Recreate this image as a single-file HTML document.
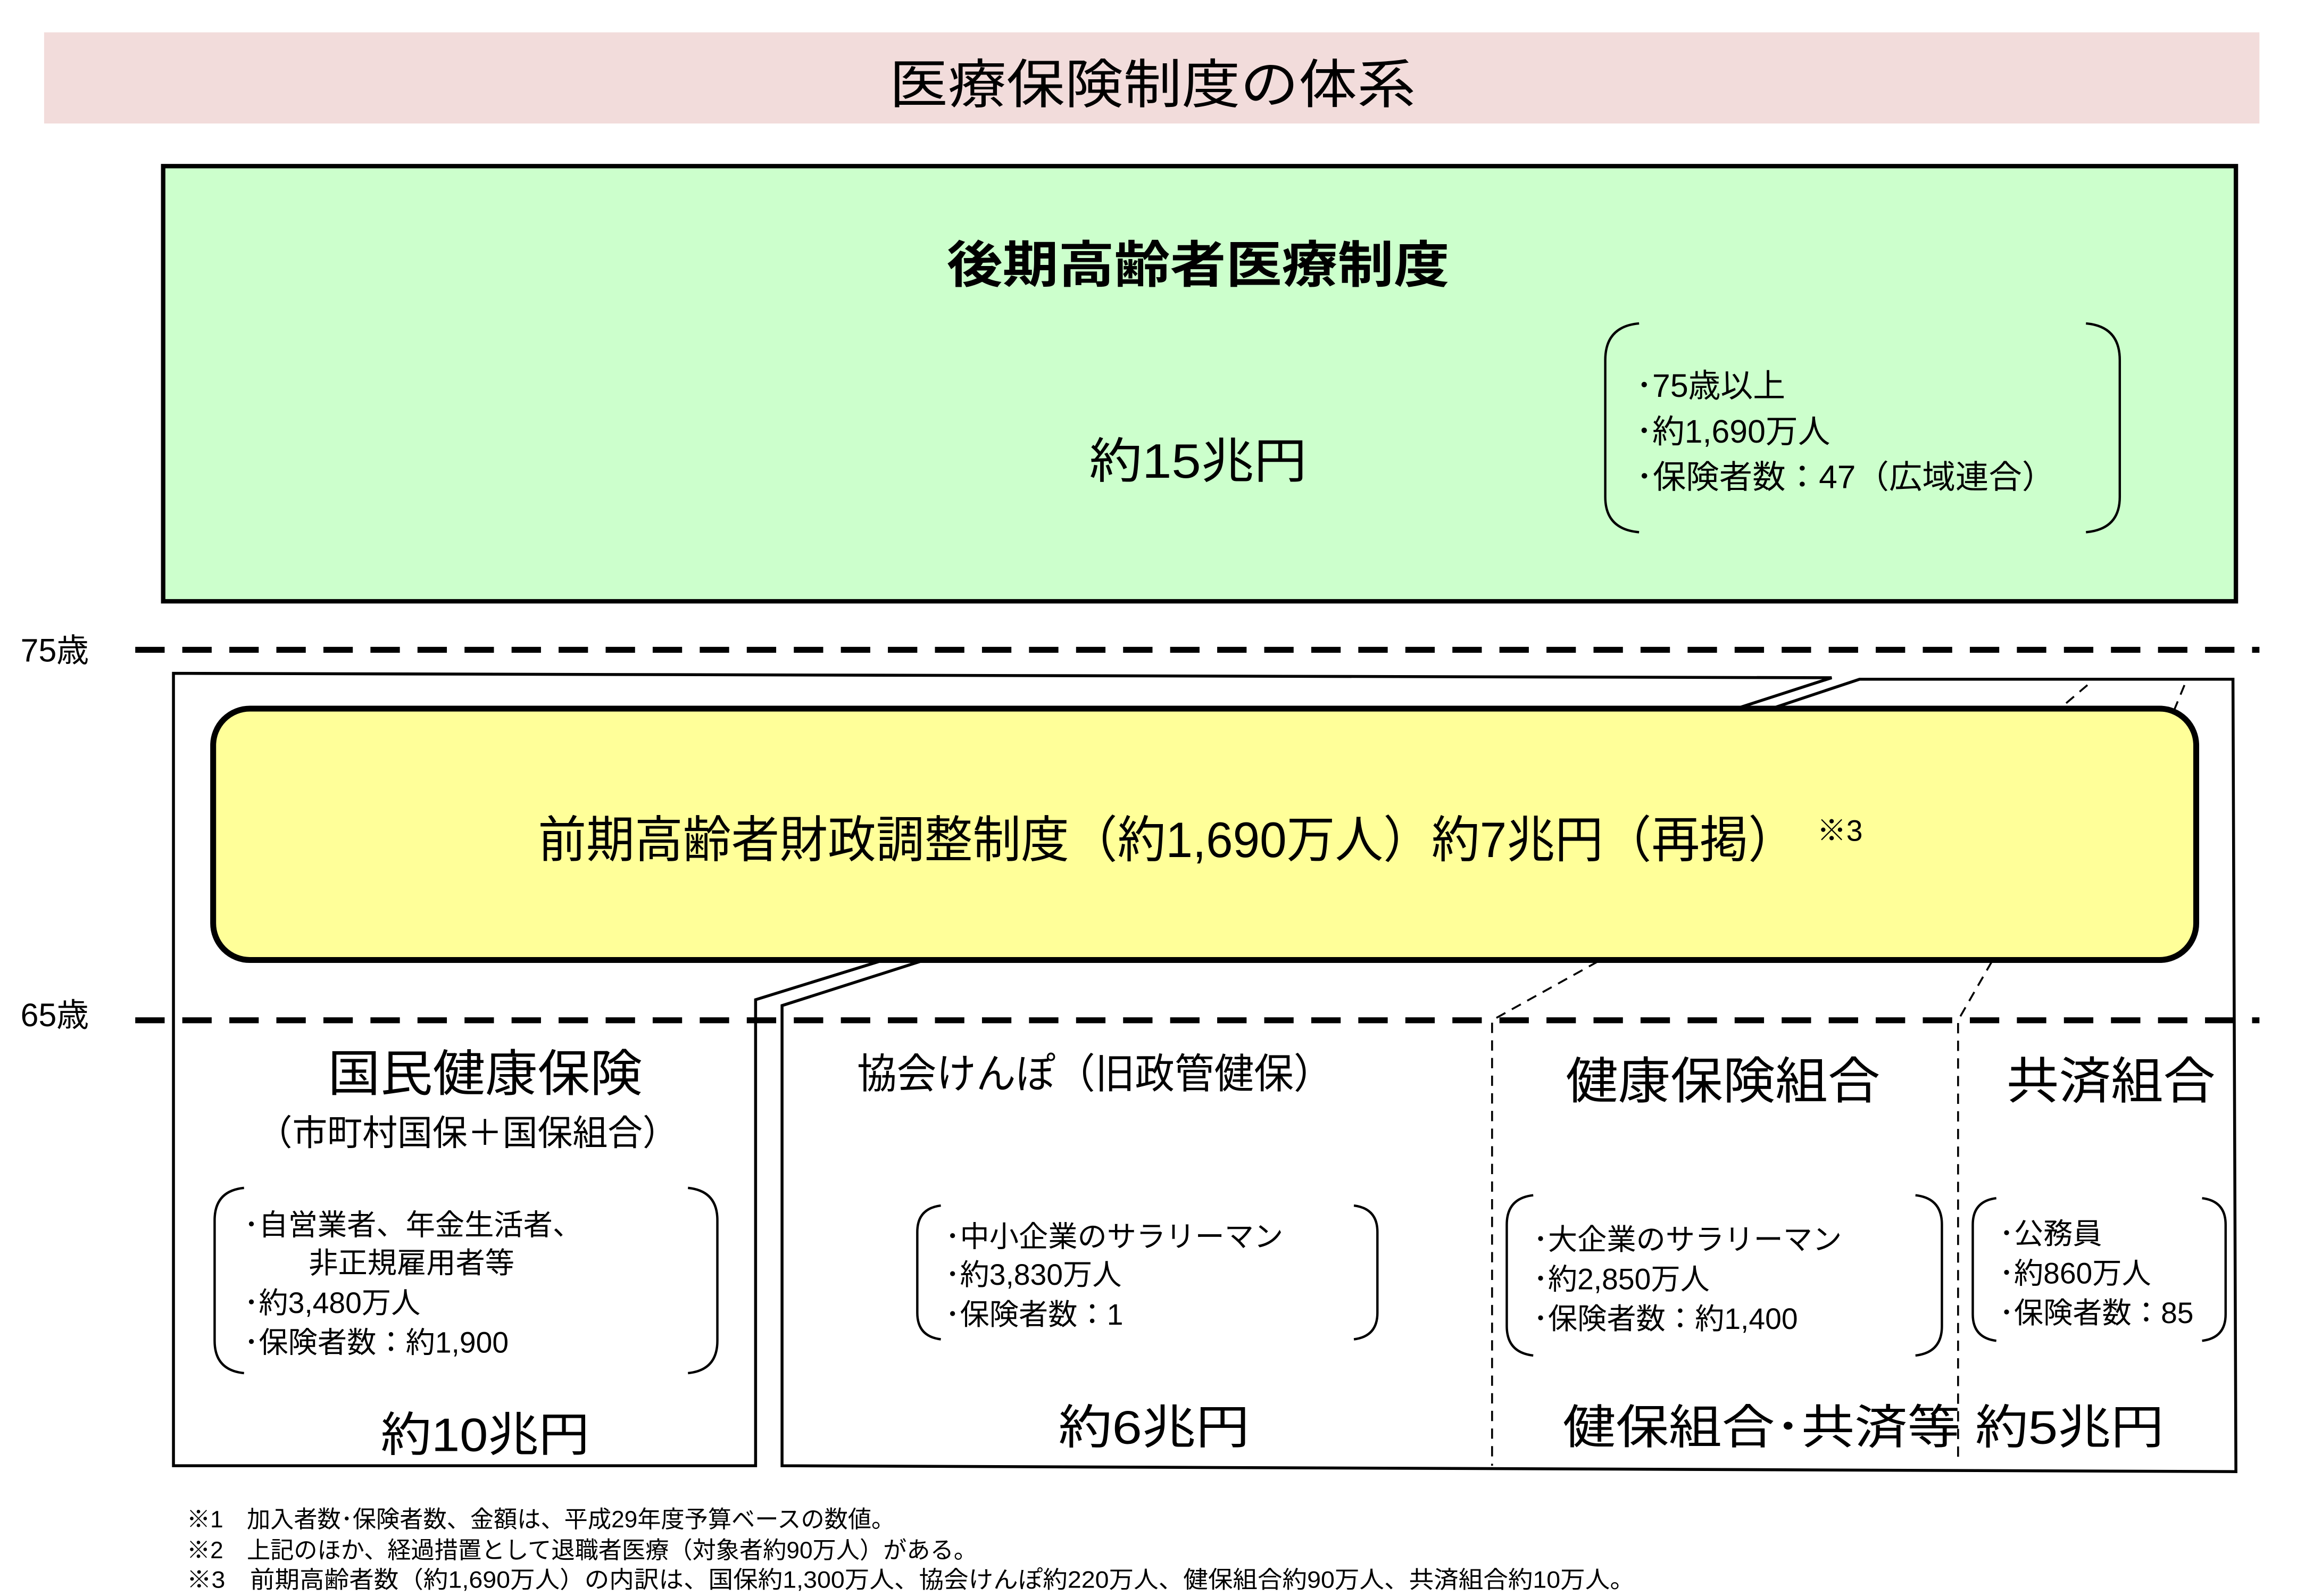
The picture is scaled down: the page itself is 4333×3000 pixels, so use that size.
<!DOCTYPE html>
<html><head><meta charset="utf-8"><style>
html,body{margin:0;padding:0;background:#fff;}
svg{display:block;}
text{font-family:"Liberation Sans","Noto Sans CJK JP",sans-serif;fill:#000;}
</style></head><body>
<svg width="4333" height="3000" viewBox="0 0 1568 1085.6" preserveAspectRatio="none" xmlns="http://www.w3.org/2000/svg">
<rect x="30" y="22" width="1507" height="62" fill="#f2dcdb"/>
<text x="784" y="70" font-size="36" text-anchor="middle" textLength="358" lengthAdjust="spacingAndGlyphs">医療保険制度の体系</text>

<rect x="111" y="113" width="1410" height="296" fill="#ccffcc" stroke="#000" stroke-width="3"/>
<text x="815" y="192" font-size="34" font-weight="bold" text-anchor="middle" textLength="342" lengthAdjust="spacingAndGlyphs">後期高齢者医療制度</text>
<text x="815" y="325" font-size="33" text-anchor="middle" textLength="148" lengthAdjust="spacingAndGlyphs">約15兆円</text>
<g fill="none" stroke="#000" stroke-width="1.6">
<path d="M1115,220 Q1092,222 1092,245 L1092,338 Q1092,360 1115,362"/>
<path d="M1419,220 Q1442,222 1442,245 L1442,338 Q1442,360 1419,362"/>
</g>
<g font-size="22">
<text x="1113" y="270">･75歳以上</text>
<text x="1113" y="301">･約1,690万人</text>
<text x="1113" y="332" textLength="285" lengthAdjust="spacingAndGlyphs">･保険者数：47（広域連合）</text>
</g>

<text x="14" y="450" font-size="22">75歳</text>
<text x="14" y="698" font-size="22">65歳</text>
<line x1="92" y1="442" x2="1537" y2="442" stroke="#000" stroke-width="4" stroke-dasharray="20,12"/>

<g fill="none" stroke="#000" stroke-width="2">
<path d="M1178,483 L1246,461 L118,458 L118,997 L514,997 L514,680 L598,654"/>
<path d="M1202,483 L1265,462 L1519,462 L1521,1001 L532,997 L532,684 L626,654"/>
</g>
<g fill="none" stroke="#000" stroke-width="1.3" stroke-dasharray="7,5">
<path d="M1420,466 L1400,483"/>
<path d="M1486,466 L1479,483"/>
<path d="M1087,654 L1015,694 L1015,997"/>
<path d="M1355,654 L1332,694 L1332,992"/>
</g>

<rect x="145" y="482" width="1349" height="171" rx="25" ry="25" fill="#ffff99" stroke="#000" stroke-width="4"/>
<text x="366" y="583" font-size="34" textLength="856" lengthAdjust="spacingAndGlyphs">前期高齢者財政調整制度（約1,690万人）約7兆円（再掲）</text>
<text x="1236" y="572" font-size="20">※3</text>

<line x1="92" y1="694" x2="1537" y2="694" stroke="#000" stroke-width="4" stroke-dasharray="20,12"/>

<text x="330" y="742" font-size="34" text-anchor="middle" textLength="214" lengthAdjust="spacingAndGlyphs">国民健康保険</text>
<text x="318" y="779" font-size="24" text-anchor="middle" textLength="286" lengthAdjust="spacingAndGlyphs">（市町村国保＋国保組合）</text>
<g fill="none" stroke="#000" stroke-width="1.6">
<path d="M166,808 Q146,810 146,830 L146,912 Q146,932 166,934"/>
<path d="M468,808 Q488,810 488,830 L488,912 Q488,932 468,934"/>
</g>
<g font-size="20">
<text x="166" y="840">･自営業者、年金生活者、</text>
<text x="210" y="866">非正規雇用者等</text>
<text x="166" y="893">･約3,480万人</text>
<text x="166" y="920">･保険者数：約1,900</text>
</g>
<text x="330" y="987" font-size="32" text-anchor="middle" textLength="142" lengthAdjust="spacingAndGlyphs">約10兆円</text>

<text x="745" y="740" font-size="28" text-anchor="middle" textLength="324" lengthAdjust="spacingAndGlyphs">協会けんぽ（旧政管健保）</text>
<g fill="none" stroke="#000" stroke-width="1.6">
<path d="M640,820 Q624,822 624,838 L624,893 Q624,909 640,911"/>
<path d="M921,820 Q937,822 937,838 L937,893 Q937,909 921,911"/>
</g>
<g font-size="20">
<text x="643" y="848">･中小企業のサラリーマン</text>
<text x="643" y="874">･約3,830万人</text>
<text x="643" y="901">･保険者数：1</text>
</g>
<text x="785" y="982" font-size="32" text-anchor="middle" textLength="130" lengthAdjust="spacingAndGlyphs">約6兆円</text>

<text x="1172" y="747" font-size="34" text-anchor="middle" textLength="214" lengthAdjust="spacingAndGlyphs">健康保険組合</text>
<g fill="none" stroke="#000" stroke-width="1.6">
<path d="M1043,813 Q1025,815 1025,833 L1025,902 Q1025,920 1043,922"/>
<path d="M1303,813 Q1321,815 1321,833 L1321,902 Q1321,920 1303,922"/>
</g>
<g font-size="20">
<text x="1043" y="850">･大企業のサラリーマン</text>
<text x="1043" y="877">･約2,850万人</text>
<text x="1043" y="904">･保険者数：約1,400</text>
</g>

<text x="1436" y="747" font-size="34" text-anchor="middle" textLength="142" lengthAdjust="spacingAndGlyphs">共済組合</text>
<g fill="none" stroke="#000" stroke-width="1.6">
<path d="M1358,815 Q1342,817 1342,833 L1342,894 Q1342,910 1358,912"/>
<path d="M1498,815 Q1514,817 1514,833 L1514,894 Q1514,910 1498,912"/>
</g>
<g font-size="20">
<text x="1360" y="846">･公務員</text>
<text x="1360" y="873">･約860万人</text>
<text x="1360" y="900">･保険者数：85</text>
</g>

<text x="1063" y="982" font-size="32" textLength="409" lengthAdjust="spacingAndGlyphs">健保組合･共済等 約5兆円</text>

<g font-size="16">
<text x="127" y="1039">※1　加入者数･保険者数、金額は、平成29年度予算ベースの数値。</text>
<text x="127" y="1060">※2　上記のほか、経過措置として退職者医療（対象者約90万人）がある。</text>
<text x="127" y="1080" textLength="985" lengthAdjust="spacingAndGlyphs">※3　前期高齢者数（約1,690万人）の内訳は、国保約1,300万人、協会けんぽ約220万人、健保組合約90万人、共済組合約10万人。</text>
</g>
</svg>
</body></html>
